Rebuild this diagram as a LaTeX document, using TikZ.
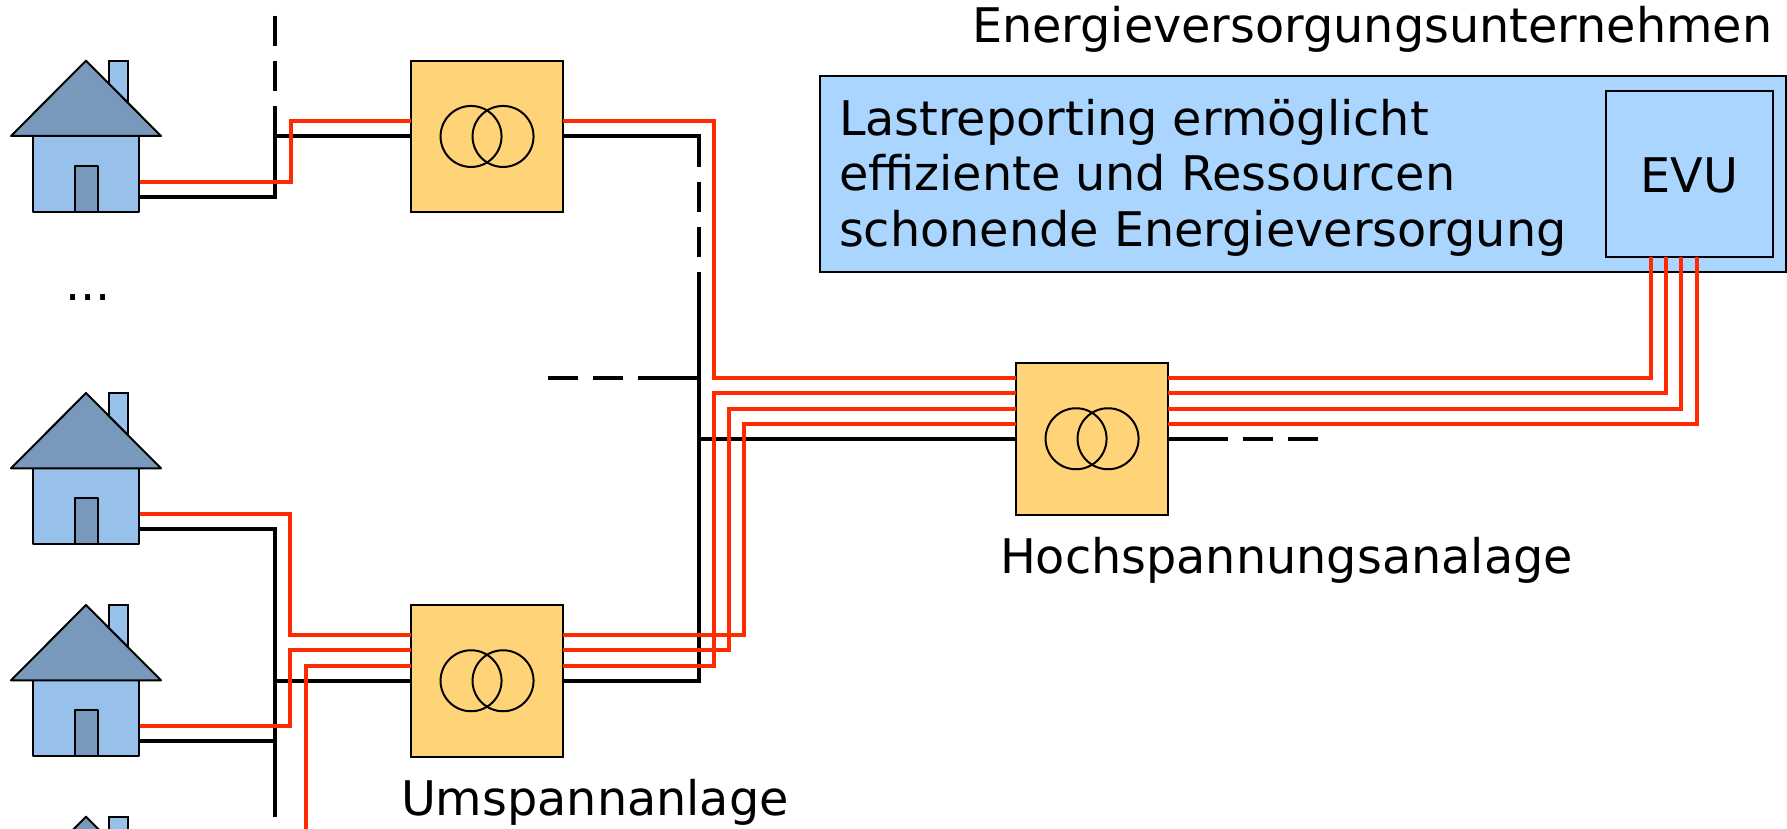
\documentclass[tikz,border=0pt]{standalone}
\usepackage{fontspec}
\setmainfont{DejaVu Sans}
\definecolor{redline}{HTML}{FF2A00}
\definecolor{trafo}{HTML}{FFD478}
\definecolor{panel}{HTML}{A9D5FF}
\definecolor{houselight}{HTML}{97C0EB}
\definecolor{housedark}{HTML}{7899BB}
\tikzset{
  redw/.style={draw=redline,line width=4pt,line join=miter},
  blackw/.style={draw=black,line width=4pt,line join=miter},
  dashw/.style={blackw,dash pattern=on 30pt off 15.3pt},
  trafobox/.style={draw=black,fill=trafo,line width=2pt,minimum width=151.5pt,minimum height=151.5pt,inner sep=0pt,outer sep=0pt},
  panelbox/.style={draw=black,fill=panel,line width=2pt,inner sep=0pt,outer sep=0pt},
  thin1/.style={draw=black,line width=2pt},
  lab/.style={font=\fontsize{47.7}{56}\selectfont,inner sep=0pt,outer sep=0pt,anchor=base west},
  house/.pic={
    \draw[thin1,fill=houselight] (109,60.7) rectangle (128,110);
    \draw[thin1,fill=houselight,line join=round] (33.3,136) rectangle (139.3,212);
    \draw[thin1,fill=housedark,line join=round] (74.6,166) rectangle (98,212);
    \draw[thin1,fill=housedark,line join=round] (86,60.7) -- (161,136) -- (11,136) -- cycle;
  }
}
\begin{document}
\begin{tikzpicture}[x=1pt,y=-1pt]
\useasboundingbox (0,0) rectangle (1787,829);
% panel
\node[panelbox,anchor=north west,minimum width=966.8pt,minimum height=196.6pt] (panel) at (819.5,75.7) {};
\node[panelbox,anchor=north west,minimum width=167pt,minimum height=166.6pt] (evu) at (1605.7,90.7) {};
\node[lab,anchor=center] (evutxt) at ([yshift=-1pt]evu.center) {EVU};
\node[lab] (t1) at (839,136) {Lastreporting ermöglicht};
\node[lab] (t2) at (839,191) {effiziente und Ressourcen};
\node[lab] (t3) at (839,246) {schonende Energieversorgung};
\node[lab] (title) at (972,43) {Energieversorgungsunternehmen};
\node[lab] (hs) at (1000,573) {Hochspannungsanalage};
\node[lab] (us) at (401,815) {Umspannanlage};
\node[lab] (dots) at (65,300) {...};
% coordinates
\coordinate (hA) at (139.3,197);
\coordinate (jA) at (275,197);
\coordinate (jB) at (275,136.45);
\coordinate (hB) at (139.3,529.3);
\coordinate (jC) at (275,529.3);
\coordinate (jD) at (275,816.7);
\coordinate (hC) at (139.3,741);
\coordinate (jE) at (275,741);
\coordinate (jF) at (275,680.75);
\coordinate (jG) at (699,136.45);
\coordinate (jH) at (699,680.75);
\coordinate (jI) at (699,438.75);
\coordinate (jJ) at (699,378.3);
\coordinate (jK) at (547.5,378.3);
\coordinate (jL) at (1318.6,438.75);
% transformers
\node[trafobox,anchor=north west] (tA) at (411,60.7) {};
\node[trafobox,anchor=north west] (tB) at (411,605) {};
\node[trafobox,anchor=north west] (tC) at (1016,363) {};
% black lines
\draw[blackw] (hA) -- (jA) -- (jB) -- (tA.west);
\draw[dashw] (jB |- 0,15.7) -- (jB |- 0,106.7);
\draw[blackw] (jB |- 0,106.7) -- (jB);
\draw[blackw] (tA.east) -- (jG) -- (jG |- 0,166.7);
\draw[dashw] (jG |- 0,181.7) -- (jG |- 0,272.7);
\draw[blackw] (hB) -- (jC) -- (jD);
\draw[blackw] (hC) -- (jE);
\draw[blackw] (jF) -- (tB.west);
\draw[blackw] (tB.east) -- (jH) -- (jG |- 0,272.7);
\draw[blackw] (jI) -- (tC.west);
\draw[blackw] (jJ) -- (638.4,378.3);
\draw[dashw] (jK) -- (638.4,378.3);
\draw[blackw] (tC.east) -- (1228,438.75);
\draw[dashw] (1243,438.75) -- (jL);
% red lines
\coordinate (rA) at (290.5,181.7);
\draw[redw] (hA |- rA) -- (rA) -- (rA |- 0,121.3) -- (tA.west |- 0,121.3);
\draw[redw] (tA.east |- 0,121.3) -- (713.5,121.3) -- (713.5,378) -- (tC.west |- 0,378);
\draw[redw] (hB |- 0,514) -- (290,514) -- (290,635.3) -- (tB.west |- 0,635.3);
\draw[redw] (hC |- 0,725.7) -- (290,725.7) -- (290,650.3) -- (tB.west |- 0,650.3);
\draw[redw] (306,829) -- (306,665.7) -- (tB.west |- 0,665.7);
\draw[redw] (tB.east |- 0,635.3) -- (744,635.3) -- (744,423.7) -- (tC.west |- 0,423.7);
\draw[redw] (tB.east |- 0,650.3) -- (729,650.3) -- (729,408.5) -- (tC.west |- 0,408.5);
\draw[redw] (tB.east |- 0,665.7) -- (714,665.7) -- (714,393.3) -- (tC.west |- 0,393.3);
\draw[redw] (tC.east |- 0,378) -- (1651,378) -- (1651,257.3);
\draw[redw] (tC.east |- 0,393.3) -- (1666.3,393.3) -- (1666.3,257.3);
\draw[redw] (tC.east |- 0,408.5) -- (1681.3,408.5) -- (1681.3,257.3);
\draw[redw] (tC.east |- 0,423.7) -- (1696.7,423.7) -- (1696.7,257.3);
% circles
\foreach \n in {tA,tB,tC}{
  \draw[thin1] ([xshift=-15.7pt]\n.center) circle[radius=30.5];
  \draw[thin1] ([xshift=16.3pt]\n.center) circle[radius=30.5];
}
% houses
\pic at (0,0) {house};
\pic at (0,332.3) {house};
\pic at (0,544.3) {house};
\begin{scope}
\clip (0,0) rectangle (1787,829);
\pic at (0,756) {house};
\end{scope}
\end{tikzpicture}
\end{document}
